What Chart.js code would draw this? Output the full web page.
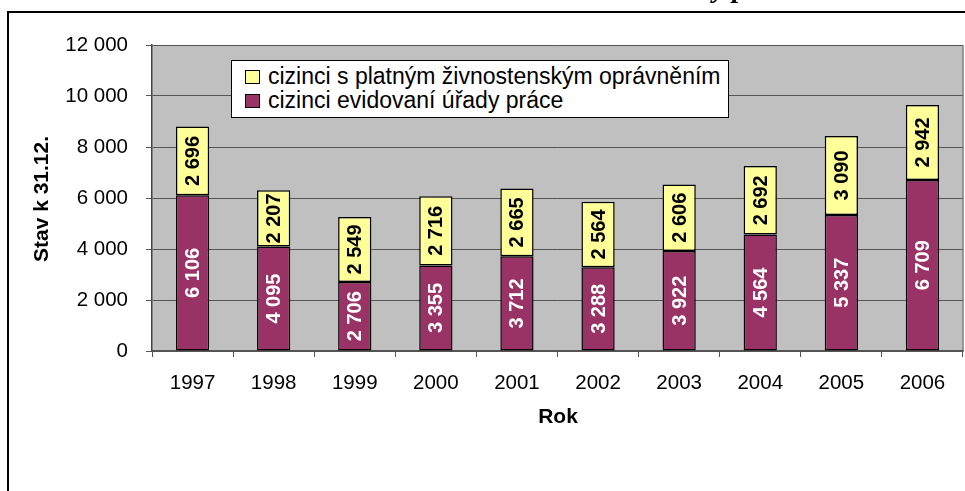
<!DOCTYPE html>
<html>
<head>
<meta charset="utf-8">
<script src="https://cdn.jsdelivr.net/npm/chart.js@4.4.1/dist/chart.umd.min.js"></script>
<style>
  html, body { margin: 0; padding: 0; background: #fff; }
  #wrap { position: relative; width: 965px; height: 491px; }
  #legend {
    position: absolute; left: 231px; top: 60px; width: 496px; height: 56px;
    background: #fff; border: 1px solid #000;
    font-family: "Liberation Sans", Arial, sans-serif; font-size: 23px; color: #000;
  }
  #legend .row { position: absolute; left: 13px; height: 23px; line-height: 23px; white-space: nowrap; }
  #legend .sw { display: inline-block; width: 13px; height: 12px; border: 1px solid #000; margin-right: 8px; vertical-align: baseline; }
</style>
</head>
<body>
<div id="wrap">
  <canvas id="chart"></canvas>
  <div id="legend"></div>
</div>
<script>
// Data
const years = ['1997', '1998', '1999', '2000', '2001', '2002', '2003', '2004', '2005', '2006'];
const evidovani = [6106, 4095, 2706, 3355, 3712, 3288, 3922, 4564, 5337, 6709];
const zivnost = [2696, 2207, 2549, 2716, 2665, 2564, 2606, 2692, 3090, 2942];
const yTicks = [0, 2000, 4000, 6000, 8000, 10000, 12000];
const nameZivnost = 'cizinci s platným živnostenským oprávněním';
const nameEvidovani = 'cizinci evidovaní úřady práce';
const titleY = 'Stav k 31.12.';
const titleX = 'Rok';
const titleFragment = 'y p';

const FONT = '"Liberation Sans", Arial, sans-serif';
const YELLOW = '#FFFF99';
const PURPLE = '#993366';

function fmt(v) {
    return String(v).replace(/\B(?=(\d{3})+(?!\d))/g, ' ');
}

// legend (yellow series listed first, as in the original)
const legendEl = document.getElementById('legend');
[[YELLOW, nameZivnost, 4], [PURPLE, nameEvidovani, 27.5]].forEach(([col, label, top]) => {
    const row = document.createElement('div');
    row.className = 'row';
    row.style.top = top + 'px';
    const sw = document.createElement('span');
    sw.className = 'sw';
    sw.style.background = col;
    row.appendChild(sw);
    row.appendChild(document.createTextNode(label));
    legendEl.appendChild(row);
});

// plot background, frame, axis titles
const decorPlugin = {
    id: 'decor',
    beforeDraw(chart) {
        const { ctx, chartArea: a } = chart;
        ctx.save();
        ctx.fillStyle = '#fff';
        ctx.fillRect(0, 0, chart.width, chart.height);
        ctx.fillStyle = '#C0C0C0';
        ctx.fillRect(a.left, a.top, a.right - a.left, a.bottom - a.top);
        ctx.strokeStyle = '#808080';
        ctx.lineWidth = 1.5;
        ctx.beginPath();
        ctx.moveTo(a.right, a.top);
        ctx.lineTo(a.right, a.bottom);
        ctx.stroke();
        ctx.restore();
    },
    afterDraw(chart) {
        const ctx = chart.ctx;
        ctx.save();

        // outer frame
        ctx.strokeStyle = '#000';
        ctx.lineWidth = 2;
        ctx.beginPath();
        ctx.moveTo(8, chart.height);
        ctx.lineTo(8, 12);
        ctx.lineTo(chart.width, 12);
        ctx.stroke();

        // cut-off title above the frame
        ctx.fillStyle = '#000';
        ctx.font = 'italic bold 28px "Liberation Serif", serif';
        ctx.textBaseline = 'alphabetic';
        ctx.textAlign = 'left';
        ctx.fillText(titleFragment, 713, -3);

        // axis titles
        ctx.font = 'bold 21px ' + FONT;
        ctx.textAlign = 'center';
        ctx.textBaseline = 'middle';
        ctx.fillText(titleX, 558, 417);
        ctx.translate(42, 199);
        ctx.rotate(-Math.PI / 2);
        ctx.fillText(titleY, 0, 0);
        ctx.restore();
    }
};

// rotated value labels inside bars
const valuesPlugin = {
    id: 'values',
    afterDatasetsDraw(chart) {
        const ctx = chart.ctx;
        ctx.save();
        ctx.font = 'bold 20px ' + FONT;
        ctx.textAlign = 'center';
        ctx.textBaseline = 'middle';
        chart.data.datasets.forEach((ds, i) => {
            chart.getDatasetMeta(i).data.forEach((bar, j) => {
                const cy = (bar.y + bar.base) / 2;
                ctx.save();
                ctx.translate(bar.x, cy);
                ctx.rotate(-Math.PI / 2);
                ctx.fillStyle = ds.labelColor;
                ctx.fillText(fmt(ds.data[j]), 0, 1);
                ctx.restore();
            });
        });
        ctx.restore();
    }
};

new Chart(document.getElementById('chart'), {
    type: 'bar',
    data: {
        labels: years,
        datasets: [
            {
                label: nameEvidovani,
                data: evidovani,
                backgroundColor: PURPLE,
                borderColor: '#000',
                borderWidth: 1.5,
                borderSkipped: false,
                labelColor: '#fff'
            },
            {
                label: nameZivnost,
                data: zivnost,
                backgroundColor: YELLOW,
                borderColor: '#000',
                borderWidth: 1.5,
                borderSkipped: false,
                labelColor: '#000'
            }
        ]
    },
    options: {
        responsive: true,
        maintainAspectRatio: false,
        animation: false,
        layout: { padding: { top: 45, right: 2, left: 0, bottom: 0 } },
        datasets: {
            bar: { categoryPercentage: 1, barPercentage: 0.41 }
        },
        plugins: {
            legend: { display: false },
            tooltip: { enabled: false }
        },
        scales: {
            x: {
                stacked: true,
                grid: {
                    drawOnChartArea: false,
                    tickLength: 6,
                    color: '#555',
                    offset: true
                },
                border: { color: '#555', width: 1.5 },
                ticks: {
                    color: '#000',
                    padding: 14,
                    maxRotation: 0,
                    font: { family: FONT, size: 20.5 }
                },
                afterFit(scale) { scale.height = 140; }
            },
            y: {
                stacked: true,
                min: 0,
                max: 12000,
                afterBuildTicks(scale) {
                    scale.ticks = yTicks.map(v => ({ value: v }));
                },
                grid: { color: '#555', tickLength: 6 },
                border: { color: '#444', width: 1.5 },
                ticks: {
                    color: '#000',
                    padding: 18,
                    font: { family: FONT, size: 20.5 },
                    callback: v => fmt(v)
                },
                afterFit(scale) { scale.width = 152; }
            }
        }
    },
    plugins: [decorPlugin, valuesPlugin]
});
</script>
</body>
</html>
